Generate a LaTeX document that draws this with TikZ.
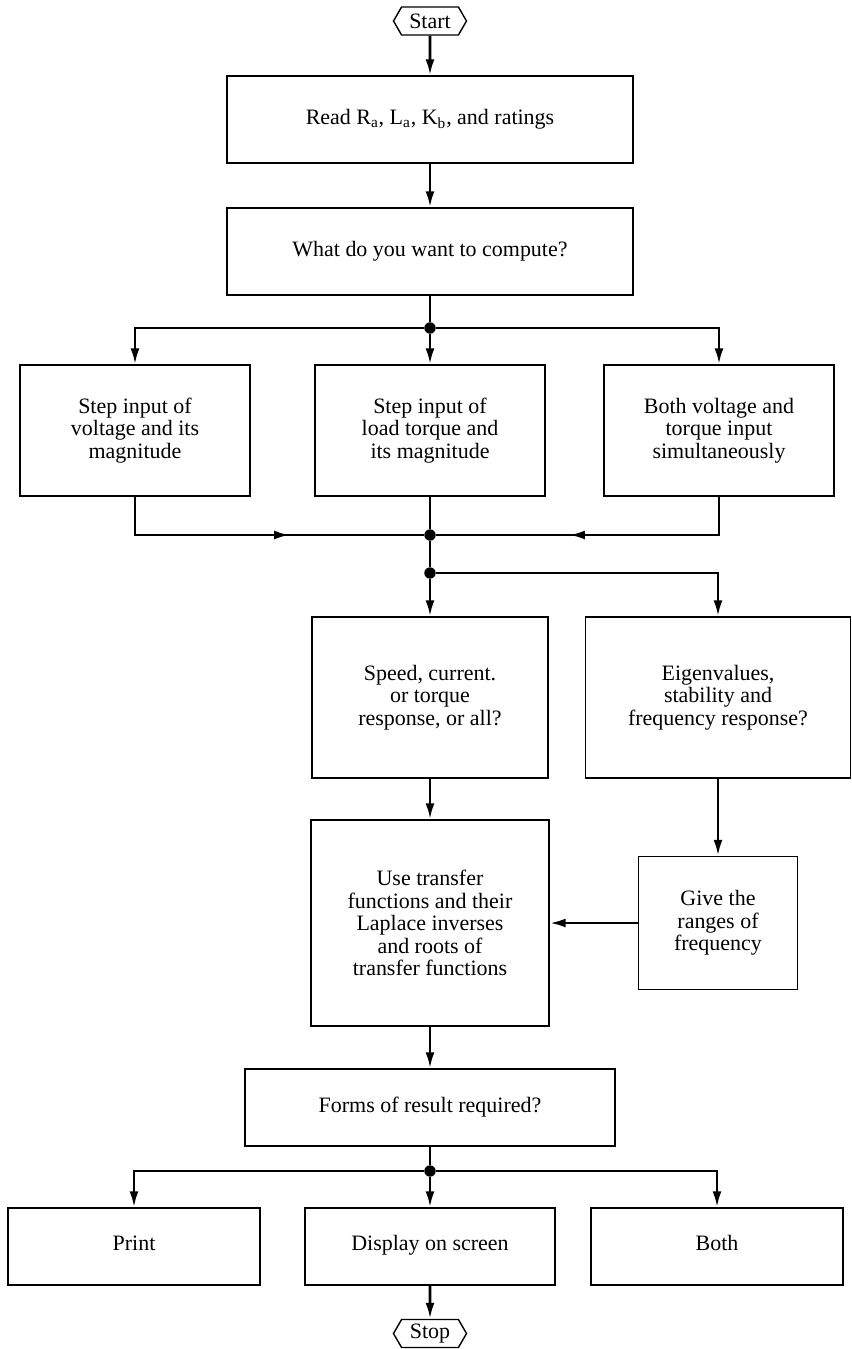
\documentclass[tikz,border=0pt]{standalone}
\usepackage{fontspec}
\setmainfont{Liberation Serif}
\usetikzlibrary{shapes,arrows.meta}
\tikzstyle{block} = [rectangle, draw, line width=0.8pt, text centered, align=center, inner sep=2pt]
\tikzstyle{outbox} = [block, minimum width=5.04cm, minimum height=1.54cm, text height=1.6ex, text depth=0.5ex]
\tikzstyle{term} = [signal, signal from=nowhere, signal to=west and east, signal pointer angle=120, draw, line width=0.8pt, minimum width=1.46cm, minimum height=0.56cm, inner sep=1pt]
\tikzstyle{line} = [draw, line width=1.5pt, -{Latex[length=9pt,width=5pt]}]
\tikzstyle{wire} = [draw, line width=1.5pt]
\tikzstyle{dot} = [circle, fill, inner sep=0pt, minimum size=6.5pt]
\begin{document}
\begin{tikzpicture}[font=\fontsize{12.5}{12.8}\selectfont]
  \useasboundingbox (0,0) rectangle (17.04,-26.98);
      \node [term] (start) at (8.6,-0.42) {Start};
      \node [block, minimum width=8.12cm, minimum height=1.74cm] (read) at (8.6,-2.39) {Read R\textsubscript{a}, L\textsubscript{a}, K\textsubscript{b}, and ratings};
      \node [block, minimum width=8.12cm, minimum height=1.74cm] (want) at (8.6,-5.03) {What do you want to compute?};
      \node [dot] (split1) at (8.6,-6.56) {};

      \node [block, minimum width=4.6cm, minimum height=2.62cm] (stepv) at (2.70,-8.61) {Step input of\\voltage and its\\magnitude};
      \node [block, minimum width=4.6cm, minimum height=2.62cm] (stept) at (8.6,-8.61) {Step input of\\load torque and\\its magnitude};
      \node [block, minimum width=4.6cm, minimum height=2.62cm] (both) at (14.38,-8.61) {Both voltage and\\torque input\\simultaneously};

      \node [dot] (merge) at (8.6,-10.70) {};
      \coordinate (mergel) at (5.80,-10.70);
      \coordinate (merger) at (11.38,-10.70);
      \node [dot] (split2) at (8.6,-11.46) {};

      \node [block, minimum width=4.72cm, minimum height=3.22cm] (speed) at (8.6,-13.95) {Speed, current.\\or torque\\response, or all?};
      \node [block, minimum width=5.3cm, minimum height=3.22cm] (eigen) at (14.36,-13.95) {Eigenvalues,\\stability and\\frequency response?};
      \node [block, minimum width=4.76cm, minimum height=4.12cm] (usetf) at (8.6,-18.46) {Use transfer\\functions and their\\Laplace inverses\\and roots of\\transfer functions};
      \node [block, minimum width=3.18cm, minimum height=2.66cm] (range) at (14.36,-18.46) {Give the\\ranges of\\frequency};

      \node [block, minimum width=7.4cm, minimum height=1.54cm] (forms) at (8.6,-22.15) {Forms of result required?};
      \node [dot] (split3) at (8.6,-23.42) {};
      \node [outbox] (print) at (2.68,-24.93) {Print};
      \node [outbox, minimum width=5.0cm] (screen) at (8.6,-24.93) {Display on screen};
      \node [outbox] (bothout) at (14.34,-24.93) {Both};
      \node [term] (stop) at (8.6,-26.67) {Stop};

      \path [line] (start) -- (read);
      \path [line] (read) -- (want);
      \path [wire] (want) -- (split1);
      \path [line] (split1) -| (stepv);
      \path [line] (split1) -- (stept);
      \path [line] (split1) -| (both);

      % merge of the three inputs, arrows half way
      \path [wire] (stepv) |- (merge);
      \path [line] (stepv) |- (mergel);
      \path [wire] (both) |- (merge);
      \path [line] (both) |- (merger);
      \path [wire] (stept) -- (merge);
      \path [wire] (merge) -- (split2);
      \path [line] (split2) -- (speed);
      \path [line] (split2) -| (eigen);

      \path [line] (speed) -- (usetf);
      \path [line] (eigen) -- (range);
      \path [line] (range) -- (usetf);
      \path [line] (usetf) -- (forms);

      \path [wire] (forms) -- (split3);
      \path [line] (split3) -| (print);
      \path [line] (split3) -- (screen);
      \path [line] (split3) -| (bothout);
      \path [line] (screen) -- (stop);
    \end{tikzpicture}
\end{document}
